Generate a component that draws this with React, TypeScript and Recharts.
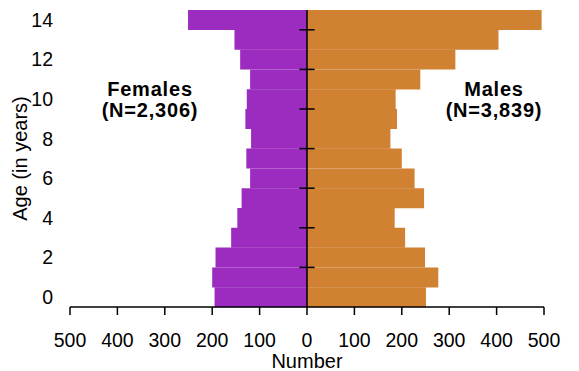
import React from 'react';
import { BarChart, Bar, XAxis, YAxis, ReferenceLine } from 'recharts';

// age in years, 0 at the bottom of the pyramid
const ages = [0, 1, 2, 3, 4, 5, 6, 7, 8, 9, 10, 11, 12, 13, 14];
const females = [195, 200, 193, 160, 147, 138, 120, 128, 118, 130, 127, 120, 141, 153, 251];
const males = [251, 277, 249, 207, 185, 247, 227, 200, 176, 190, 187, 239, 313, 404, 495];

const xTicks = [-500, -400, -300, -200, -100, 0, 100, 200, 300, 400, 500];
// little marks drawn on the centre line
const midTicks = [1.5, 3.5, 5.5, 7.5, 9.5, 11.5, 13.5];

const FONT = '"Liberation Sans", Arial, Helvetica, sans-serif';
const PURPLE = '#9c2cc0';
const ORANGE = '#d08132';

const data = ages.map((age, i) => ({ age, female: -females[i], male: males[i] }));

const groupLabel: React.CSSProperties = {
  position: 'absolute',
  width: 160,
  textAlign: 'center',
  fontWeight: 'bold',
  fontSize: 20,
  lineHeight: '21px',
  letterSpacing: 0.8,
  color: '#000',
};

const App: React.FC = () => {
  const tickStyle = { fill: '#000', fontSize: 19.5, fontFamily: FONT };

  return (
    <div
      style={{
        position: 'absolute',
        left: 0,
        top: 0,
        width: 579,
        height: 371,
        background: '#fff',
        fontFamily: FONT,
        overflow: 'hidden',
      }}
    >
      <div
        style={{
          position: 'absolute',
          top: -20,
          left: 0,
          width: 566,
          textAlign: 'center',
          color: PURPLE,
          fontWeight: 'bold',
          fontSize: 20,
          lineHeight: '18px',
        }}
      >
        (Children aged 0–14)
      </div>

      <BarChart
        width={579}
        height={371}
        data={data}
        layout="vertical"
        stackOffset="sign"
        barCategoryGap={0}
        margin={{ top: 10, right: 35, bottom: 0, left: 0 }}
      >
        <XAxis
          type="number"
          domain={[-500, 500]}
          ticks={xTicks}
          tickFormatter={(v: number) => String(Math.abs(v))}
          height={64}
          tickSize={8}
          tickMargin={18}
          axisLine={{ stroke: '#000', strokeWidth: 1.5 }}
          tickLine={{ stroke: '#000', strokeWidth: 1.5 }}
          tick={tickStyle}
          label={{
            value: 'Number',
            position: 'insideBottom',
            offset: 3,
            fill: '#000',
            fontSize: 20,
            fontFamily: FONT,
          }}
        />
        <YAxis
          type="category"
          dataKey="age"
          reversed
          interval={1}
          width={70}
          axisLine={false}
          tickLine={false}
          tickSize={0}
          tickMargin={17}
          tick={tickStyle}
          label={{
            value: 'Age (in years)',
            angle: -90,
            position: 'insideLeft',
            offset: 20,
            fill: '#000',
            fontSize: 20,
            fontFamily: FONT,
            style: { textAnchor: 'middle' },
          }}
        />
        <YAxis
          yAxisId="mid"
          type="number"
          dataKey="age"
          domain={[-0.5, 14.5]}
          allowDataOverflow
          reversed
          hide
          width={0}
        />

        <Bar dataKey="female" stackId="a" fill={PURPLE} isAnimationActive={false} />
        <Bar dataKey="male" stackId="a" fill={ORANGE} isAnimationActive={false} />

        <ReferenceLine x={0} stroke="#000" strokeWidth={1.5} />
        {midTicks.map((t) => (
          <ReferenceLine
            key={t}
            yAxisId="mid"
            segment={[{ x: -16, y: t }, { x: 16, y: t }]}
            stroke="#000"
            strokeWidth={1.5}
          />
        ))}
      </BarChart>

      <div style={{ ...groupLabel, left: 70, top: 79 }}>
        Females
        <br />
        (N=2,306)
      </div>
      <div style={{ ...groupLabel, left: 414, top: 79 }}>
        Males
        <br />
        (N=3,839)
      </div>
    </div>
  );
};

export default App;
